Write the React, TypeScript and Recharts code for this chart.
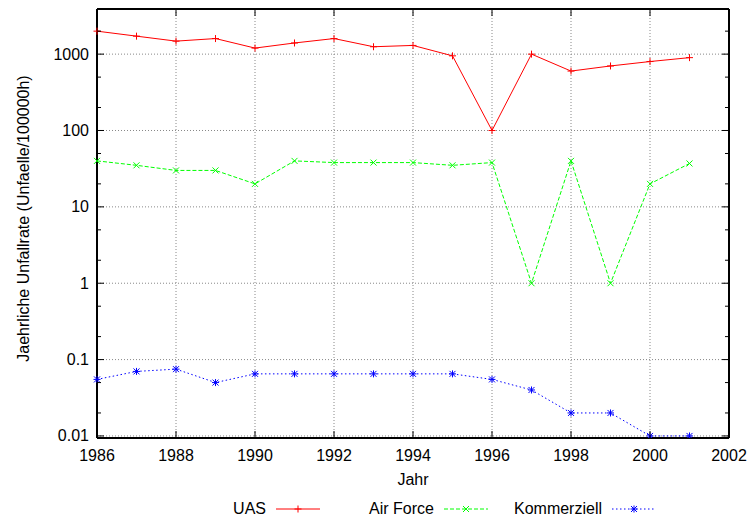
import { LineChart, Line, XAxis, YAxis, CartesianGrid } from "recharts";

const years = [1986, 1987, 1988, 1989, 1990, 1991, 1992, 1993, 1994, 1995, 1996, 1997, 1998, 1999, 2000, 2001];
const uas = [2000, 1720, 1480, 1600, 1200, 1400, 1600, 1250, 1300, 950, 100, 1000, 600, 700, 800, 900];
const airForce = [40, 35, 30, 30, 20, 40, 38, 38, 38, 35, 38, 1, 40, 1, 20, 37];
const kommerziell = [0.055, 0.07, 0.075, 0.05, 0.065, 0.065, 0.065, 0.065, 0.065, 0.065, 0.055, 0.04, 0.02, 0.02, 0.01, 0.01];

const xTicks = [1986, 1988, 1990, 1992, 1994, 1996, 1998, 2000, 2002];
const yMajor = [0.01, 0.1, 1, 10, 100, 1000];
const yTicks = [0.01, 0.02, 0.05, 0.1, 0.2, 0.5, 1, 2, 5, 10, 20, 50, 100, 200, 500, 1000, 2000];

const data = years.map((year, i) => ({
  year,
  uas: uas[i],
  airForce: airForce[i],
  kommerziell: kommerziell[i],
}));

const FONT = "'Liberation Sans', Arial, Helvetica, sans-serif";

const isMajor = (v: number) => yMajor.includes(v);

const LeftTick = (props: any) => {
  const { x, y, payload } = props;
  const major = isMajor(payload.value);
  return (
    <g>
      <line x1={x} x2={x + (major ? 7 : 4)} y1={y} y2={y} stroke="#000" strokeWidth={1} />
      {major && (
        <text x={x - 8} y={y + 5.5} textAnchor="end" fontSize={16} fontFamily={FONT} fill="#000">
          {String(payload.value)}
        </text>
      )}
    </g>
  );
};

const RightTick = (props: any) => {
  const { x, y, payload } = props;
  const major = isMajor(payload.value);
  return <line x1={x} x2={x - (major ? 7 : 4)} y1={y} y2={y} stroke="#000" strokeWidth={1} />;
};

const BottomTick = (props: any) => {
  const { x, y, payload } = props;
  return (
    <g>
      <line x1={x} x2={x} y1={y} y2={y - 7} stroke="#000" strokeWidth={1} />
      <text x={x} y={y + 23} textAnchor="middle" fontSize={16} fontFamily={FONT} fill="#000">
        {payload.value}
      </text>
    </g>
  );
};

const TopTick = (props: any) => {
  const { x, y } = props;
  return <line x1={x} x2={x} y1={y} y2={y + 7} stroke="#000" strokeWidth={1} />;
};

// gnuplot style point markers
const Plus = ({ cx, cy, color }: any) => (
  <path d={`M${cx - 3.5},${cy}H${cx + 3.5}M${cx},${cy - 3.5}V${cy + 3.5}`} stroke={color} strokeWidth={1} fill="none" />
);
const Cross = ({ cx, cy, color }: any) => (
  <path d={`M${cx - 3},${cy - 3}L${cx + 3},${cy + 3}M${cx - 3},${cy + 3}L${cx + 3},${cy - 3}`} stroke={color} strokeWidth={1} fill="none" />
);
const Star = ({ cx, cy, color }: any) => (
  <path
    d={`M${cx - 3},${cy - 3}L${cx + 3},${cy + 3}M${cx - 3},${cy + 3}L${cx + 3},${cy - 3}M${cx - 3.5},${cy}H${cx + 3.5}M${cx},${cy - 3.5}V${cy + 3.5}`}
    stroke={color}
    strokeWidth={1}
    fill="none"
  />
);

const series = [
  { key: "uas", name: "UAS", color: "#ff0000", dash: undefined, Marker: Plus },
  { key: "airForce", name: "Air Force", color: "#00ff00", dash: "4 2", Marker: Cross },
  { key: "kommerziell", name: "Kommerziell", color: "#0000ff", dash: "1.5 2.5", Marker: Star },
];

const YLabel = (props: any) => {
  const { viewBox } = props;
  const cx = viewBox.x + 23;
  const cy = viewBox.y + viewBox.height / 2 - 5;
  return (
    <text
      x={cx}
      y={cy}
      transform={`rotate(-90, ${cx}, ${cy})`}
      textAnchor="middle"
      dominantBaseline="central"
      fontSize={16}
      fontFamily={FONT}
      fill="#000"
    >
      Jaehrliche Unfallrate (Unfaelle/100000h)
    </text>
  );
};

const App = () => {
  return (
    <div style={{ position: "absolute", left: 0, top: 0, width: 749, height: 518, background: "#fff" }}>
      <LineChart width={749} height={518} data={data} margin={{ top: 0, right: 0, bottom: 33, left: 0 }}>
        <CartesianGrid
          horizontalValues={yMajor}
          verticalValues={xTicks}
          stroke="#888"
          strokeDasharray="1 2"
        />
        <XAxis
          dataKey="year"
          type="number"
          domain={[1986, 2002]}
          ticks={xTicks}
          interval={0}
          height={47}
          tickSize={0}
          tickMargin={0}
          tickLine={false}
          tick={<BottomTick />}
          axisLine={{ stroke: "#000", strokeWidth: 2 }}
          label={{ value: "Jahr", position: "insideBottom", offset: 0, fontSize: 16, fontFamily: FONT, fill: "#000" }}
        />
        <XAxis
          xAxisId="top"
          orientation="top"
          dataKey="year"
          type="number"
          domain={[1986, 2002]}
          ticks={xTicks}
          interval={0}
          height={9}
          tickSize={0}
          tickMargin={0}
          tickLine={false}
          tick={<TopTick />}
          axisLine={{ stroke: "#000", strokeWidth: 2 }}
        />
        <YAxis
          scale="log"
          type="number"
          domain={[0.0094, 3900]}
          allowDataOverflow
          ticks={yTicks}
          interval={0}
          width={97}
          tickSize={0}
          tickMargin={0}
          tickLine={false}
          tick={<LeftTick />}
          axisLine={{ stroke: "#000", strokeWidth: 2 }}
          label={<YLabel />}
        />
        <YAxis
          yAxisId="right"
          orientation="right"
          scale="log"
          type="number"
          domain={[0.0094, 3900]}
          allowDataOverflow
          ticks={yTicks}
          interval={0}
          width={20}
          tickSize={0}
          tickMargin={0}
          tickLine={false}
          tick={<RightTick />}
          axisLine={{ stroke: "#000", strokeWidth: 2 }}
        />
        {series.map((s) => (
          <Line
            key={s.key}
            dataKey={s.key}
            name={s.name}
            type="linear"
            stroke={s.color}
            strokeWidth={1}
            strokeDasharray={s.dash}
            isAnimationActive={false}
            dot={(p: any) => <s.Marker key={`${s.key}-${p.index}`} cx={p.cx} cy={p.cy} color={s.color} />}
            activeDot={false}
          />
        ))}
      </LineChart>
      <div
        style={{
          position: "absolute",
          top: 500,
          left: 152,
          display: "flex",
          fontFamily: FONT,
          fontSize: 16,
          lineHeight: "18px",
        }}
      >
        {series.map((s) => (
          <div key={s.key} style={{ width: 168, display: "flex", alignItems: "center" }}>
            <span style={{ flex: 1, textAlign: "right", paddingRight: 10 }}>{s.name}</span>
            <svg width={44} height={12}>
              <line x1={0} x2={44} y1={6} y2={6} stroke={s.color} strokeWidth={1} strokeDasharray={s.dash} />
              <s.Marker cx={22} cy={6} color={s.color} />
            </svg>
          </div>
        ))}
      </div>
    </div>
  );
};

export default App;
